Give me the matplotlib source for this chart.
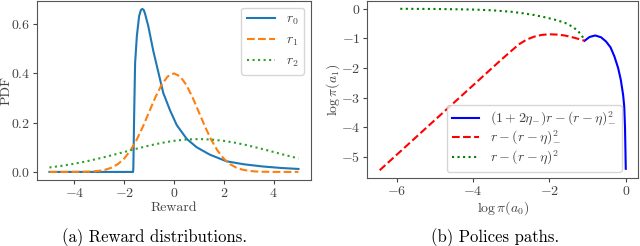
import matplotlib
matplotlib.use("Agg")
import matplotlib.pyplot as plt

plt.rcParams['font.family'] = 'serif'
plt.rcParams['font.serif'] = ['cmr10', 'DejaVu Serif']
plt.rcParams['mathtext.fontset'] = 'cm'
plt.rcParams['axes.formatter.use_mathtext'] = True
plt.rcParams['font.size'] = 10
for k in ['text.color', 'axes.labelcolor', 'xtick.color', 'ytick.color']:
    plt.rcParams[k] = '#444444'
plt.rcParams['axes.edgecolor'] = '#555555'
plt.rcParams['xtick.major.size'] = 3
plt.rcParams['ytick.major.size'] = 3
plt.rcParams['xtick.major.pad'] = 2
plt.rcParams['ytick.major.pad'] = 2

# (a) reward distributions
r0_x = [-5.0, -1.64, -1.63, -1.60, -1.56, -1.49, -1.40, -1.33, -1.27, -1.21, -1.16, -1.03,
        -0.93, -0.83, -0.63, -0.43, -0.16, 0.11, 0.51, 0.91, 1.44, 2.11, 2.8, 3.57, 4.3, 5.0]
r0_y = [0.0, 0.0, 0.02, 0.22, 0.44, 0.55, 0.63, 0.655, 0.66, 0.655, 0.64, 0.59,
        0.54, 0.49, 0.405, 0.32, 0.25, 0.19, 0.134, 0.10, 0.07, 0.043, 0.031, 0.022, 0.016, 0.012]

r1_x = [-5.0, -4.75, -4.5, -4.25, -4.0, -3.75, -3.5, -3.25, -3.0, -2.75, -2.5, -2.25, -2.0,
        -1.75, -1.5, -1.25, -1.0, -0.75, -0.5, -0.25, 0.0, 0.25, 0.5, 0.75, 1.0, 1.25, 1.5,
        1.75, 2.0, 2.25, 2.5, 2.75, 3.0, 3.25, 3.5, 3.75, 4.0, 4.25, 4.5, 4.75, 5.0]
r1_y = [0.0, 0.0, 0.0, 0.0001, 0.0001, 0.0004, 0.0009, 0.002, 0.0044, 0.0091, 0.0175, 0.0317,
        0.054, 0.0863, 0.1295, 0.1826, 0.242, 0.3011, 0.352, 0.3867, 0.399, 0.3867, 0.352,
        0.3011, 0.242, 0.1826, 0.1295, 0.0863, 0.054, 0.0317, 0.0175, 0.0091, 0.0044, 0.002,
        0.0009, 0.0004, 0.0001, 0.0001, 0.0, 0.0, 0.0]

r2_x = [-5.0, -4.5, -4.0, -3.5, -3.0, -2.5, -2.0, -1.5, -1.0, -0.5, 0.0, 0.5, 1.0, 1.5,
        2.0, 2.5, 3.0, 3.5, 4.0, 4.5, 5.0]
r2_y = [0.018, 0.0248, 0.0332, 0.0432, 0.0547, 0.0673, 0.0807, 0.094, 0.1065, 0.1174,
        0.1258, 0.1312, 0.133, 0.1312, 0.1258, 0.1174, 0.1065, 0.094, 0.0807, 0.0673, 0.0547]

# (b) policy paths
full_x = [-1.08, -0.95, -0.8, -0.65, -0.52, -0.4, -0.3, -0.2, -0.13, -0.07, -0.04, -0.02, 0.0]
full_y = [-1.08, -0.95, -0.9, -0.96, -1.1, -1.3, -1.6, -2.0, -2.4, -2.9, -3.3, -4.0, -5.4]

neg_x = [-6.45, -5.0, -4.0, -3.3, -3.0, -2.8, -2.6, -2.4, -2.2, -2.0, -1.8, -1.6, -1.4, -1.2, -1.08]
neg_y = [-5.45, -3.75, -2.58, -1.76, -1.42, -1.2, -1.04, -0.94, -0.88, -0.86, -0.87, -0.9,
         -0.96, -1.03, -1.08]

sq_x = [-5.91, -5.0, -4.0, -3.5, -3.0, -2.7, -2.4, -2.1, -1.85, -1.6, -1.4, -1.25, -1.13, -1.08]
sq_y = [0.0, -0.005, -0.025, -0.05, -0.1, -0.15, -0.21, -0.29, -0.37, -0.47, -0.6, -0.75,
        -0.95, -1.07]

fig = plt.figure(figsize=(6.4, 2.46), dpi=100)
ax1 = fig.add_axes([0.0578, 0.268, 0.428, 0.729])
ax2 = fig.add_axes([0.574, 0.275, 0.423, 0.722])

ax1.plot(r0_x, r0_y, color='tab:blue', lw=1.5, label=r'$r_0$')
ax1.plot(r1_x, r1_y, color='tab:orange', lw=1.5, ls='--', label=r'$r_1$')
ax1.plot(r2_x, r2_y, color='tab:green', lw=1.5, ls=':', label=r'$r_2$')
ax1.set_xticks([-4, -2, 0, 2, 4])
ax1.set_yticks([0.0, 0.2, 0.4, 0.6])
ax1.set_xlabel('Reward', labelpad=1)
ax1.set_ylabel('PDF')
ax1.yaxis.set_label_coords(-0.09, 0.5)
ax1.legend(loc='upper right')

ax2.plot(full_x, full_y, color='blue', lw=1.5, label=r'$(1+2\eta_{-})r-(r-\eta)_{-}^2$')
ax2.plot(neg_x, neg_y, color='red', lw=1.5, ls='--', label=r'$r-(r-\eta)_{-}^2$')
ax2.plot(sq_x, sq_y, color='green', lw=1.5, ls=':', label=r'$r-(r-\eta)^2$')
ax2.set_xticks([-6, -4, -2, 0])
ax2.set_yticks([0, -1, -2, -3, -4, -5])
ax2.set_xlabel(r'$\log\pi(a_0)$', labelpad=1)
ax2.set_ylabel(r'$\log\pi(a_1)$')
ax2.yaxis.set_label_coords(-0.093, 0.5)
ax2.legend(loc='lower right', bbox_to_anchor=(0.94, 0.037), borderaxespad=0,
           labelspacing=0.08, borderpad=0.35)

fig.text(0.241, 0.033, '(a) Reward distributions.', ha='center', va='center',
         fontsize=12, color='black')
fig.text(0.773, 0.033, '(b) Polices paths.', ha='center', va='center',
         fontsize=12, color='black')

fig.savefig('out.png', dpi=100)
